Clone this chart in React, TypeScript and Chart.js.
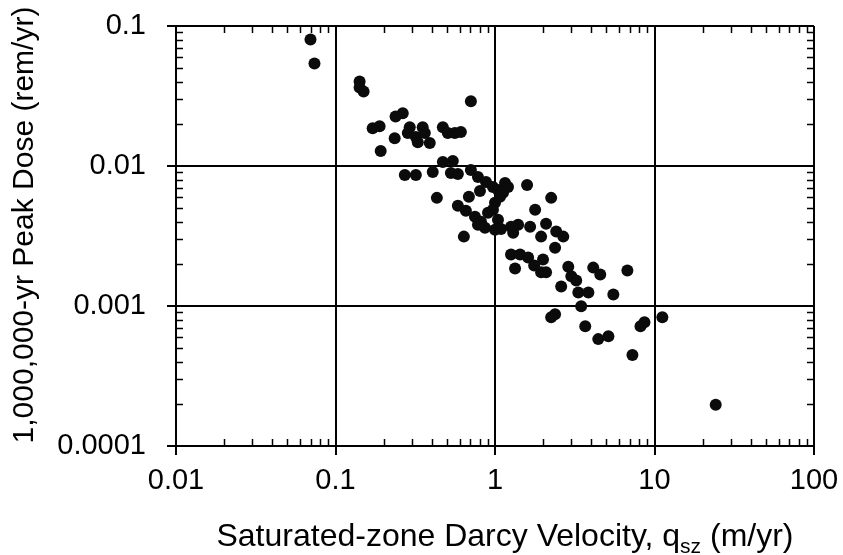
import React, { useEffect, useRef } from "react";
import { Chart, registerables } from "chart.js";

Chart.register(...registerables);

// Saturated-zone Darcy velocity q_sz (m/yr)
const velocity = [
  0.0697, 0.0738, 0.1416, 0.1416, 0.150, 0.706, 0.171, 0.189, 0.238, 0.264,
  0.235, 0.192, 0.292, 0.284, 0.319, 0.352, 0.363, 0.390, 0.328, 0.471,
  0.506, 0.560, 0.611, 0.272, 0.319, 0.407, 0.432, 0.471, 0.544, 0.529,
  0.585, 0.706, 0.782, 0.878, 0.971, 1.044, 1.156, 1.207, 1.589, 2.25,
  0.805, 0.686, 1.075, 1.0, 0.585, 0.657, 0.749, 0.817, 0.865, 1.0,
  1.091, 0.638, 0.971, 1.044, 1.785, 2.09, 2.42, 2.68, 1.946, 2.38,
  1.66, 1.396, 1.26, 1.30, 0.904, 1.123, 1.26, 1.436, 1.613, 1.76,
  1.946, 2.00, 1.336, 2.88, 3.01, 2.60, 3.33, 3.85, 4.13, 4.57,
  5.52, 6.76, 3.23, 2.38, 2.25, 3.68, 4.44, 5.14, 7.27, 8.17,
  8.65, 11.2, 24.2, 2.09, 3.47, 0.782,
];

// 1,000,000-yr peak dose (rem/yr)
const peakDose = [
  0.0800, 0.0540, 0.0402, 0.0364, 0.0341, 0.0290, 0.0186, 0.0192, 0.0226, 0.0238,
  0.0158, 0.0128, 0.0189, 0.0172, 0.0161, 0.0189, 0.0172, 0.0146, 0.0148, 0.0189,
  0.0172, 0.0172, 0.0175, 0.00863, 0.00863, 0.00906, 0.00592, 0.01066, 0.01086, 0.00892,
  0.00877, 0.00937, 0.00835, 0.00769, 0.00709, 0.00675, 0.00757, 0.00709, 0.00733, 0.00592,
  0.00664, 0.00602, 0.00602, 0.00546, 0.00520, 0.00479, 0.00434, 0.00400, 0.00362, 0.00351,
  0.00355, 0.00313, 0.00487, 0.00413, 0.00487, 0.00387, 0.00340, 0.00313, 0.00313, 0.00261,
  0.00368, 0.00381, 0.00368, 0.00334, 0.00463, 0.00643, 0.00233, 0.00233, 0.00222, 0.00195,
  0.00174, 0.00215, 0.00185, 0.00191, 0.00163, 0.00138, 0.00125, 0.00125, 0.00188, 0.00168,
  0.00121, 0.00179, 0.00152, 0.000873, 0.000832, 0.000718, 0.000580, 0.000609, 0.000446, 0.000718,
  0.000766, 0.000832, 0.000197, 0.00174, 0.000995, 0.00381,
];

const xTickValues = [0.01, 0.1, 1, 10, 100];
const xTickLabels = ["0.01", "0.1", "1", "10", "100"];
const yTickValues = [0.0001, 0.001, 0.01, 0.1];
const yTickLabels = ["0.0001", "0.001", "0.01", "0.1"];

const xTitleMain = "Saturated-zone Darcy Velocity, q";
const xTitleSub = "sz";
const xTitleTail = " (m/yr)";
const yTitle = "1,000,000-yr Peak Dose (rem/yr)";

const FONT = '"Liberation Sans", Arial, Helvetica, sans-serif';
const INK = "#000";

function minorValues(min: number, max: number): number[] {
  const out: number[] = [];
  for (let e = Math.floor(Math.log10(min)); e < Math.ceil(Math.log10(max)); e++) {
    for (let m = 2; m <= 9; m++) {
      const v = m * Math.pow(10, e);
      if (v > min && v < max) out.push(v);
    }
  }
  return out;
}

const frameTicksPlugin = {
  id: "frameTicks",
  afterDraw(chart: any) {
    const { ctx, chartArea, scales } = chart;
    const xs = scales.x;
    const ys = scales.y;
    const len = 7;
    ctx.save();
    ctx.strokeStyle = INK;
    ctx.lineWidth = 1.5;
    ctx.beginPath();
    for (const v of minorValues(xs.min, xs.max)) {
      const px = Math.round(xs.getPixelForValue(v)) + 0.5;
      ctx.moveTo(px, chartArea.bottom);
      ctx.lineTo(px, chartArea.bottom - len);
      ctx.moveTo(px, chartArea.top);
      ctx.lineTo(px, chartArea.top + len);
    }
    for (const v of minorValues(ys.min, ys.max)) {
      const py = Math.round(ys.getPixelForValue(v)) + 0.5;
      ctx.moveTo(chartArea.left, py);
      ctx.lineTo(chartArea.left + len, py);
      ctx.moveTo(chartArea.right, py);
      ctx.lineTo(chartArea.right - len, py);
    }
    ctx.stroke();

    // x-axis title with subscript
    const size = 32;
    const subSize = 21;
    ctx.fillStyle = INK;
    ctx.textBaseline = "alphabetic";
    ctx.textAlign = "left";
    ctx.font = `${size}px ${FONT}`;
    const w1 = ctx.measureText(xTitleMain).width;
    const w3 = ctx.measureText(xTitleTail).width;
    ctx.font = `${subSize}px ${FONT}`;
    const w2 = ctx.measureText(xTitleSub).width;
    const total = w1 + w2 + w3;
    const cx = (chartArea.left + chartArea.right) / 2 + 10;
    const baseY = chartArea.bottom + 100;
    let x0 = cx - total / 2;
    ctx.font = `${size}px ${FONT}`;
    ctx.fillText(xTitleMain, x0, baseY);
    x0 += w1;
    ctx.font = `${subSize}px ${FONT}`;
    ctx.fillText(xTitleSub, x0, baseY + 7);
    x0 += w2;
    ctx.font = `${size}px ${FONT}`;
    ctx.fillText(xTitleTail, x0, baseY);

    // y-axis title, rotated
    ctx.save();
    ctx.translate(25, (chartArea.top + chartArea.bottom) / 2 - 11);
    ctx.rotate(-Math.PI / 2);
    ctx.font = `30px ${FONT}`;
    ctx.textAlign = "center";
    ctx.textBaseline = "middle";
    ctx.fillText(yTitle, 0, 0);
    ctx.restore();

    ctx.restore();
  },
};

export default function App() {
  const ref = useRef<HTMLCanvasElement | null>(null);

  useEffect(() => {
    if (!ref.current) return;
    const points = velocity.map((v, i) => ({ x: v, y: peakDose[i] }));
    const chart = new Chart(ref.current, {
      type: "scatter",
      data: {
        datasets: [
          {
            data: points,
            backgroundColor: "#0b0b0b",
            borderColor: "#0b0b0b",
            borderWidth: 0,
            pointRadius: 6,
            pointHoverRadius: 6,
          },
        ],
      },
      options: {
        responsive: false,
        animation: false,
        events: [],
        layout: { padding: { top: 26, right: 29, left: 0, bottom: 0 } },
        plugins: {
          legend: { display: false },
          tooltip: { enabled: false },
        },
        scales: {
          x: {
            type: "logarithmic",
            min: 0.01,
            max: 100,
            afterBuildTicks: (scale: any) => {
              scale.ticks = xTickValues.map((v) => ({ value: v, major: true }));
            },
            afterFit: (scale: any) => {
              scale.height = 109;
              scale.paddingLeft = 0;
              scale.paddingRight = 0;
              scale.paddingTop = 0;
              scale.paddingBottom = 0;
            },
            ticks: {
              autoSkip: false,
              maxRotation: 0,
              padding: 9,
              color: INK,
              font: { size: 29, family: FONT },
              callback: (_v: any, i: number) => xTickLabels[i],
            },
            grid: { color: INK, lineWidth: 2, tickLength: 9, drawTicks: true },
            border: { display: true, color: INK, width: 2 },
          },
          y: {
            type: "logarithmic",
            min: 0.0001,
            max: 0.1,
            afterBuildTicks: (scale: any) => {
              scale.ticks = yTickValues.map((v) => ({ value: v, major: true }));
            },
            afterFit: (scale: any) => {
              scale.width = 176;
              scale.paddingLeft = 0;
              scale.paddingRight = 0;
              scale.paddingTop = 0;
              scale.paddingBottom = 0;
            },
            ticks: {
              autoSkip: false,
              padding: 21,
              color: INK,
              font: { size: 29, family: FONT },
              callback: (_v: any, i: number) => yTickLabels[i],
            },
            grid: { color: INK, lineWidth: 2, tickLength: 9, drawTicks: true },
            border: { display: true, color: INK, width: 2 },
          },
        },
      },
      plugins: [frameTicksPlugin],
    });
    return () => chart.destroy();
  }, []);

  return (
    <div style={{ position: "absolute", left: 0, top: 0, width: 843, height: 555, background: "#fff" }}>
      <canvas ref={ref} width={843} height={555} style={{ display: "block" }} />
    </div>
  );
}
